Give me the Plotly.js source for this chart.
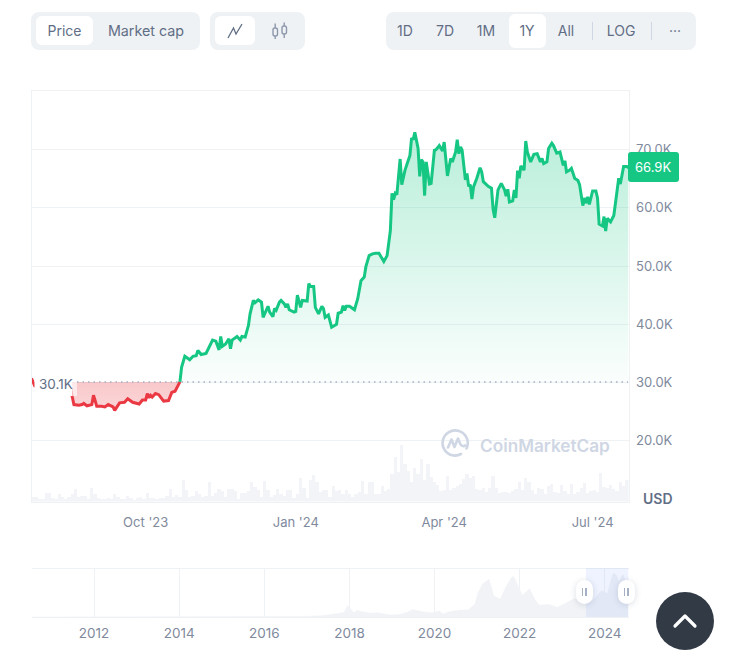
<!DOCTYPE html>
<html>
<head>
<meta charset="utf-8">
<script src="https://cdn.plot.ly/plotly-3.0.1.min.js"></script>
<style>
html,body{margin:0;padding:0;background:#fff;}
#wrap{position:relative;width:729px;height:663px;overflow:hidden;font-family:Inter,sans-serif;}
#chart{position:absolute;left:0;top:0;width:729px;height:663px;}
.grp{position:absolute;top:12px;height:38px;background:#eff2f5;border-radius:8px;}
.pill{position:absolute;background:#fff;border-radius:6px;}
.t{position:absolute;top:12px;height:38px;line-height:38px;font-size:14px;font-weight:400;color:#616e85;transform:translateX(-50%);white-space:nowrap;}
.sep{position:absolute;top:22px;height:18px;width:1px;background:#cfd6e4;}
.ico{position:absolute;}
.handle{position:absolute;top:580px;width:17px;height:24px;background:#fff;border-radius:9px;box-shadow:0 1px 6px rgba(88,102,126,.22);}
.handle i{position:absolute;top:8px;width:1.5px;height:8px;background:#a6b0c3;}
#up{position:absolute;left:656px;top:592px;width:58px;height:58px;border-radius:50%;background:#323a46;}
</style>
</head>
<body>
<div id="wrap">
  <div id="chart"></div>
  <div class="grp" style="left:31px;width:169px;"></div>
  <div class="pill" style="left:36px;top:16px;width:57px;height:29px;"></div>
  <div class="t" style="left:64.5px;">Price</div>
  <div class="t" style="left:146px;font-size:14.3px;">Market cap</div>
  <div class="grp" style="left:210px;width:95px;"></div>
  <div class="pill" style="left:215px;top:16px;width:40px;height:29px;"></div>
  <svg class="ico" style="left:226px;top:22px;" width="18" height="18" viewBox="0 0 18 18"><path d="M2 16 L7.5 6 L10 12 L16 2" fill="none" stroke="#616e85" stroke-width="1.3"/></svg>
  <svg class="ico" style="left:271px;top:22px;" width="18" height="18" viewBox="0 0 18 18"><g fill="none" stroke="#8d98ab" stroke-width="1.4"><rect x="2" y="6" width="4.5" height="8" rx="2"/><rect x="11" y="4" width="4.5" height="8" rx="2"/><path d="M4.2 1.5V6M4.2 14V17M13.2 0.5V4M13.2 12V16"/></g></svg>
  <div class="grp" style="left:386px;width:310px;"></div>
  <div class="pill" style="left:509px;top:14px;width:37px;height:34px;"></div>
  <div class="t" style="left:405px;">1D</div>
  <div class="t" style="left:445px;">7D</div>
  <div class="t" style="left:486px;">1M</div>
  <div class="t" style="left:527px;">1Y</div>
  <div class="t" style="left:566px;">All</div>
  <div class="sep" style="left:592px;"></div>
  <div class="t" style="left:621px;">LOG</div>
  <div class="sep" style="left:651px;"></div>
  <div class="t" style="left:675px;">···</div>
  <div class="handle" style="left:575.5px;"><i style="left:6px;"></i><i style="left:9.5px;"></i></div>
  <div class="handle" style="left:617.5px;"><i style="left:6px;"></i><i style="left:9.5px;"></i></div>
  <div id="up"><svg width="58" height="58" viewBox="0 0 58 58"><path d="M19 34 L29 24 L39 34" fill="none" stroke="#fff" stroke-width="3.2" stroke-linecap="round" stroke-linejoin="round"/></svg></div>
</div>
<script>
// ---- data ----
var startDate = [2023, 6, 23];               // first day of the 1Y window
var priceDays = [0,1,2,4,6,9,10,13,15,18,20,23,24,25,26,29,31,32,34,37,38,39,40,43,45,47,50,51,54,57,59,62,66,68,70,71,72,73,74,76,78,81,84,86,88,91,
92,94,97,99,101,102,104,107,109,111,113,115,116,117,119,121,122,123,126,128,129,131,133,134,136,137,139,141,142,144,145,146,148,149,150,152,153,155,156,157,158,161,162,163,165,166,169,170,171,173,174,176,178,179,180,182,184,187,188,190,
191,192,193,195,198,200,202,204,205,207,209,211,213,216,218,220,221,222,223,224,226,227,229,231,232,233,234,235,237,238,239,240,241,242,244,245,247,248,250,252,253,255,257,258,260,261,262,263,264,266,267,268,269,270,271,273,275,276,277,280,282,283,284,286,288,290,291,292,293,295,296,297,298,299,300,302,303,304,306,308,310,312,313,314,316,317,319,320,322,324,326,327,328,330,331,333,335,336,338,339,340,341,342,344,346,347,348,350,351,352,353,355,357,358,360,361,363,365,366];
var priceK = [30.7,29.9,29.4,29.3,29.2,29.6,29.2,29.2,29.4,29.4,29.4,29.2,29.0,27.5,26.2,26.1,26.2,26.4,26.0,26.2,27.8,26.9,25.9,25.9,25.8,26.2,25.8,25.2,26.5,26.6,27.2,26.6,26.3,27.0,27.0,28.1,27.4,27.8,27.5,28.1,27.9,26.8,26.9,28.3,28.5,30.1,
32.6,34.5,33.9,34.5,34.6,35.5,34.8,35.0,36.1,37.3,37.1,35.6,37.9,36.2,36.6,37.5,35.8,37.3,37.9,37.3,37.9,37.8,39.8,41.8,44.1,43.7,44.2,43.8,41.2,42.7,43.1,42.1,41.3,42.7,42.4,43.8,44.1,43.5,42.9,43.5,42.5,42.1,42.2,45.0,42.9,44.1,44.0,47.0,46.5,46.5,42.9,41.8,43.1,42.7,41.2,41.6,39.5,40.0,41.9,42.1,
43.2,42.4,43.1,43.1,42.5,44.4,47.5,48.1,49.9,51.8,52.1,52.2,52.2,50.8,51.8,56.1,62.5,61.4,62.5,62.3,68.4,64.0,66.5,68.2,69.0,72.0,71.7,73.0,70.2,65.4,68.3,67.9,62.1,67.9,64.1,64.2,69.9,70.0,70.7,69.8,71.3,65.5,68.5,67.9,69.6,71.7,69.3,70.5,69.9,64.8,65.9,63.7,64.0,61.5,63.6,65.1,66.9,66.2,64.5,63.7,63.4,59.7,58.3,63.1,64.2,63.1,62.0,63.2,61.0,61.2,63.1,61.7,66.4,65.1,67.2,66.5,71.5,69.6,67.9,69.2,69.3,67.9,68.5,67.6,67.9,70.2,71.1,70.7,69.4,69.6,67.3,68.1,66.2,66.5,66.8,65.1,64.7,64.0,60.4,61.7,60.8,61.9,60.6,62.9,62.9,61.7,57.2,56.9,58.5,56.0,58.2,57.6,58.7,60.8,65.1,64.1,67.1,67.1,66.9];
var baseValueK = 30.1;
var lastPriceText = '66.9K', lastPriceK = 66.9, baseText = '30.1K';
// volume every second day, billions USD
var volumeB = [10,10,6,6,18,18,8,6,16,10,6,10,16,26,10,12,12,6,28,16,8,6,6,8,6,16,10,6,6,12,8,4,8,10,6,18,8,8,6,8,8,12,26,10,14,10,44,24,10,12,22,16,10,12,40,12,18,26,22,10,26,
26,22,6,18,18,22,40,30,24,10,42,24,10,14,26,16,12,24,24,8,16,48,28,8,44,54,40,20,24,24,10,32,22,24,16,24,16,10,16,20,42,16,40,40,16,16,32,22,26,56,90,60,114,76,62,40,68,56,86,44,76,50,
40,34,22,24,52,24,28,32,36,46,56,48,52,26,24,28,20,28,52,28,18,20,20,18,22,26,40,24,48,40,24,16,28,26,16,32,36,20,18,34,22,16,36,16,20,28,38,18,22,24,20,58,30,28,34,26,22,40,32,44];
var yTickVals = [20,30,40,50,60,70];
var yTickText = ['20.0K','30.0K','40.0K','50.0K','60.0K','70.0K'];
var xTickVals = ['2023-10-01','2024-01-01','2024-04-01','2024-07-01'];
var xTickText = ["Oct '23","Jan '24","Apr '24","Jul '24"];
// whole history for the navigator
var historyDates = ['2010-07-18','2013-01-01','2013-11-30','2014-06-01','2015-01-15','2016-01-01','2016-07-01','2017-01-01','2017-06-01','2017-09-01','2017-11-15','2017-12-17','2018-01-15','2018-02-06','2018-03-05','2018-06-25','2018-09-01','2018-12-15','2019-03-01','2019-05-15','2019-06-26','2019-09-25','2019-12-15','2020-02-12','2020-03-13','2020-05-15','2020-08-15','2020-10-15','2020-12-15','2021-01-08','2021-02-20','2021-04-14','2021-05-23','2021-07-20','2021-09-06','2021-10-20','2021-11-09','2022-01-24','2022-03-28','2022-05-12','2022-06-18','2022-09-10','2022-11-21','2023-01-20','2023-03-25','2023-04-14','2023-07-13','2023-09-11','2023-12-05','2024-01-23','2024-03-14','2024-04-08','2024-05-01','2024-06-05','2024-07-05','2024-07-23'];
var historyK = [0.1,0.1,1.1,0.6,0.25,0.43,0.65,0.95,2.5,4.6,7.5,19,13,7,11,6.2,7,3.4,3.9,8,12.5,8.4,7.1,10.2,5,9.3,11.8,11.5,22,40,56,63,35,30,51,65,68,36,47,29,19.5,21,16,22.5,28,30.5,31,25.5,44,39,73,71,58,71,56,66.9];
var historyTickVals = ['2012-01-01','2014-01-01','2016-01-01','2018-01-01','2020-01-01','2022-01-01','2024-01-01'];
var historyTickText = ['2012','2014','2016','2018','2020','2022','2024'];

// ---- helpers ----
function dayToDate(d){ return new Date(Date.UTC(startDate[0],startDate[1],startDate[2]+d)).toISOString().slice(0,10); }
var W=729,H=663;
function px(x){return x/W;} function py(y){return 1-y/H;}
function rr(x0,y0,x1,y1,r){ // rounded rectangle path in paper fractions
  var X=function(v){return px(v);},Y=function(v){return py(v);};
  return 'M'+X(x0+r)+','+Y(y0)+' L'+X(x1-r)+','+Y(y0)+' Q'+X(x1)+','+Y(y0)+' '+X(x1)+','+Y(y0+r)+
    ' L'+X(x1)+','+Y(y1-r)+' Q'+X(x1)+','+Y(y1)+' '+X(x1-r)+','+Y(y1)+
    ' L'+X(x0+r)+','+Y(y1)+' Q'+X(x0)+','+Y(y1)+' '+X(x0)+','+Y(y1-r)+
    ' L'+X(x0)+','+Y(y0+r)+' Q'+X(x0)+','+Y(y0)+' '+X(x0+r)+','+Y(y0)+' Z';
}
var dates = priceDays.map(dayToDate);
var crossIdx = priceDays.indexOf(91);
var GREEN='#16c784', RED='#ea3943', GRID='#eff2f5', TICK='#808a9d';
var FONT='Inter, sans-serif';

var base = function(arrX){ return arrX.map(function(){return baseValueK;}); };
var redX = dates.slice(0,crossIdx+1), redY = priceK.slice(0,crossIdx+1);
var greenX = dates.slice(crossIdx), greenY = priceK.slice(crossIdx);
var volX = volumeB.map(function(_,i){return dayToDate(i*2+1);});

var traces = [
 {type:'scatter',mode:'lines',x:historyDates,y:historyK,xaxis:'x2',yaxis:'y2',fill:'tozeroy',fillcolor:'#f1f3f6',line:{color:'#f1f3f6',width:0.5},hoverinfo:'skip',showlegend:false},
 {type:'scatter',mode:'lines',x:redX,y:base(redX),line:{width:0,color:'rgba(0,0,0,0)'},hoverinfo:'skip',showlegend:false},
 {type:'scatter',mode:'lines',x:redX,y:redY,fill:'tonexty',
  fillgradient:{type:'vertical',start:25,stop:30.1,colorscale:[[0,'rgba(234,57,67,0.2)'],[1,'rgba(234,57,67,0.28)']]},
  line:{color:RED,width:3},showlegend:false,name:'Price'},
 {type:'scatter',mode:'lines',x:greenX,y:base(greenX),line:{width:0,color:'rgba(0,0,0,0)'},hoverinfo:'skip',showlegend:false},
 {type:'scatter',mode:'lines',x:greenX,y:greenY,fill:'tonexty',
  fillgradient:{type:'vertical',start:30.1,stop:73,colorscale:[[0,'rgba(22,199,132,0.02)'],[1,'rgba(22,199,132,0.3)']]},
  line:{color:GREEN,width:3},showlegend:false,name:'Price'},
 {type:'bar',x:volX,y:volumeB,yaxis:'y3',width:86400000*2,marker:{color:'#f2f4f7',line:{width:0}},hoverinfo:'skip',showlegend:false}
];

var logoSvg = '<svg xmlns="http://www.w3.org/2000/svg" viewBox="0 0 28 28"><g fill="none" stroke="#cfd6e4" stroke-width="2.6" stroke-linecap="round" stroke-linejoin="round"><path d="M25.5 19.5A12.6 12.6 0 1 0 14 26.6a12.5 12.5 0 0 0 6-1.6"/><path d="M7 18.5 10.5 10.5 13.5 18 17 9.5 19.5 15.5q2 2.5 5 1"/></g></svg>';

var layout = {
 width:W,height:H,margin:{l:0,r:0,t:0,b:0},paper_bgcolor:'#fff',plot_bgcolor:'rgba(0,0,0,0)',
 font:{family:FONT,size:13,color:TICK},showlegend:false,bargap:0,hovermode:false,
 xaxis:{domain:[px(31.5),px(628.5)],range:[dayToDate(0),dayToDate(366)],type:'date',anchor:'y',tickmode:'array',tickvals:xTickVals,ticktext:xTickText,
   ticks:'outside',ticklen:9,tickcolor:'rgba(0,0,0,0)',showgrid:false,zeroline:false,showline:true,mirror:true,linecolor:GRID,linewidth:1,tickfont:{family:FONT,size:13,color:TICK}},
 yaxis:{domain:[py(501.5),py(90.5)],range:[9.55,80.17],side:'right',anchor:'x',tickmode:'array',tickvals:yTickVals,ticktext:yTickText,
   ticks:'outside',ticklen:4,tickcolor:'rgba(0,0,0,0)',showgrid:true,gridcolor:GRID,gridwidth:1,zeroline:false,showline:true,mirror:true,linecolor:GRID,linewidth:1,tickfont:{family:FONT,size:13,color:TICK}},
 yaxis3:{domain:[py(501.5),py(90.5)],overlaying:'y',range:[0,822],visible:false,fixedrange:true},
 xaxis2:{domain:[px(31.5),px(628.5)],range:['2010-07-13','2024-07-23'],type:'date',anchor:'y2',tickmode:'array',tickvals:historyTickVals,ticktext:historyTickText,
   ticks:'outside',ticklen:4,tickcolor:'rgba(0,0,0,0)',showgrid:true,gridcolor:GRID,gridwidth:1,zeroline:false,showline:true,mirror:true,linecolor:GRID,linewidth:1,tickfont:{family:FONT,size:13.5,color:TICK}},
 yaxis2:{domain:[py(617),py(568.5)],range:[0,81],anchor:'x2',visible:false,fixedrange:true},
 images:[{source:'data:image/svg+xml;utf8,'+encodeURIComponent(logoSvg),xref:'paper',yref:'paper',x:px(441),y:py(429),sizex:px(28),sizey:28/H,xanchor:'left',yanchor:'top',layer:'above',opacity:1}],
 shapes:[
  {type:'line',xref:'paper',yref:'y',x0:px(77),x1:px(628),y0:baseValueK,y1:baseValueK,layer:'above',line:{color:'#a6b0c3',width:1.5,dash:'1.5px,4px'}},
  {type:'rect',xref:'paper',yref:'paper',x0:px(34.5),x1:px(72.5),y0:py(396),y1:py(372),layer:'above',line:{width:0},fillcolor:'#fff'},
  {type:'rect',xref:'paper',yref:'paper',x0:px(72.5),x1:px(77),y0:py(396),y1:py(372),layer:'above',line:{width:0},fillcolor:'rgba(255,255,255,0.6)'},
  {type:'rect',xref:'x2',yref:'paper',x0:'2023-07-23',x1:'2024-07-23',y0:py(617),y1:py(568),layer:'above',line:{width:0},fillcolor:'rgba(56,97,251,0.08)'},
  {type:'path',xref:'paper',yref:'paper',path:rr(628,152,679,182,3),layer:'above',line:{width:0},fillcolor:GREEN}
 ],
 annotations:[
  {xref:'paper',yref:'paper',x:px(36.5),y:py(383.5),xanchor:'left',yanchor:'middle',showarrow:false,text:baseText,font:{family:FONT,size:13.5,color:'#616e85'}},
  {xref:'paper',yref:'paper',x:px(652.5),y:py(167),xanchor:'center',yanchor:'middle',showarrow:false,text:lastPriceText,font:{family:FONT,size:13,color:'#fff'}},
  {xref:'paper',yref:'paper',x:px(657.5),y:py(498),xanchor:'center',yanchor:'middle',showarrow:false,text:'USD',font:{family:FONT,size:14,color:'#616e85',weight:600}},
  {xref:'paper',yref:'paper',x:px(477.5),y:py(445.5),xanchor:'left',yanchor:'middle',showarrow:false,text:'CoinMarketCap',font:{family:FONT,size:17.2,color:'#cfd6e4',weight:600}}
 ]
};
Plotly.newPlot('chart',traces,layout,{staticPlot:true,displayModeBar:false});
</script>
</body>
</html>
